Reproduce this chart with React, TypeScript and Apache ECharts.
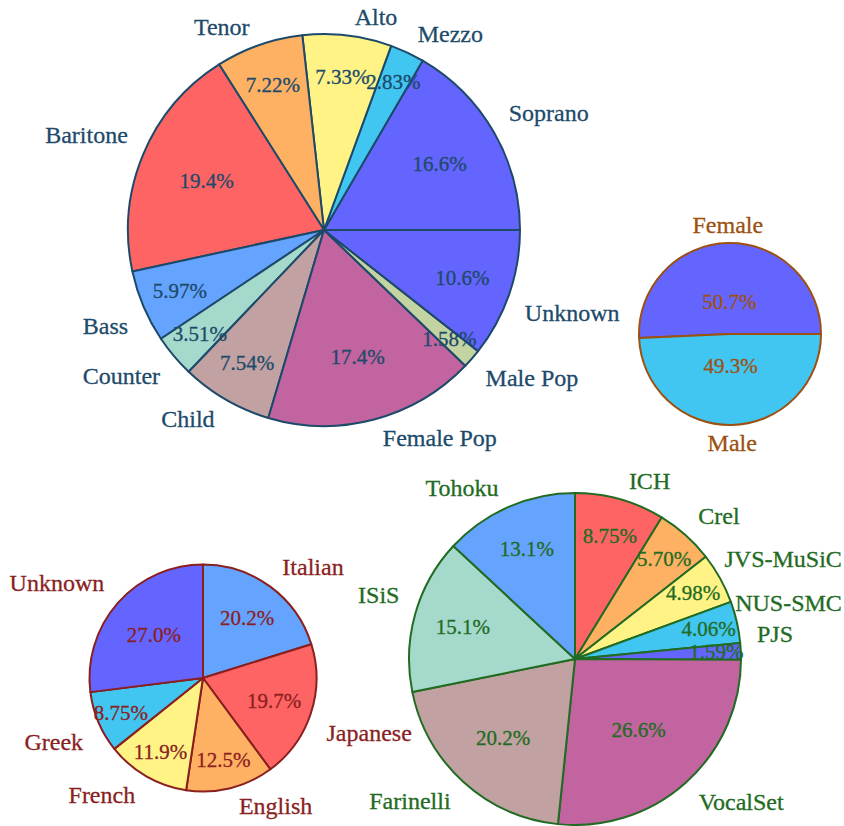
import React, { useEffect, useRef } from "react";
import * as echarts from "echarts";

// ---- data (percentages) ----
const voiceNames = ["Soprano", "Mezzo", "Alto", "Tenor", "Baritone", "Bass", "Counter", "Child", "Female Pop", "Male Pop", "Unknown"];
const voiceValues = [16.6, 2.83, 7.33, 7.22, 19.4, 5.97, 3.51, 7.54, 17.4, 1.58, 10.6];
const voiceColors = ["#6464ff", "#40c6f1", "#fff386", "#ffb163", "#ff6464", "#64a4ff", "#a4d9cb", "#c1a1a1", "#c1649f", "#c3d3a1", "#6464ff"];

const genderNames = ["Female", "Male"];
const genderValues = [50.7, 49.3];
const genderColors = ["#6464ff", "#40c6f1"];

const languageNames = ["Italian", "Japanese", "English", "French", "Greek", "Unknown"];
const languageValues = [20.2, 19.7, 12.5, 11.9, 8.75, 27.0];
const languageColors = ["#64a4ff", "#ff6464", "#ffb163", "#fff386", "#40c6f1", "#6464ff"];

const datasetNames = ["ICH", "Crel", "JVS-MuSiC", "NUS-SMC", "PJS", "VocalSet", "Farinelli", "ISiS", "Tohoku"];
const datasetValues = [8.75, 5.70, 4.98, 4.06, 1.59, 26.6, 20.2, 15.1, 13.1];
const datasetColors = ["#ff6464", "#ffb163", "#fff386", "#40c6f1", "#6464ff", "#c1649f", "#c1a1a1", "#a4d9cb", "#64a4ff"];

const WIDTH = 844;
const HEIGHT = 826;
const FONT = "Liberation Serif";
const NAME_SIZE = 24;
const PCT_SIZE = 21;

type PieDef = {
  names: string[];
  values: number[];
  colors: string[];
  ink: string;
  center: [number, number];
  radius: number;
  startAngle: number;
  clockwise: boolean;
};

const pies: PieDef[] = [
  { names: voiceNames, values: voiceValues, colors: voiceColors, ink: "#1d4a6a", center: [324, 230], radius: 196, startAngle: 0, clockwise: false },
  { names: genderNames, values: genderValues, colors: genderColors, ink: "#9c5112", center: [730, 334], radius: 91, startAngle: 0, clockwise: false },
  { names: languageNames, values: languageValues, colors: languageColors, ink: "#8a1f1f", center: [203, 678], radius: 113.5, startAngle: 90, clockwise: true },
  { names: datasetNames, values: datasetValues, colors: datasetColors, ink: "#226b22", center: [575, 659], radius: 166, startAngle: 90, clockwise: true },
];

function buildSeries(pie: PieDef) {
  const total = pie.values.reduce((a, b) => a + b, 0);
  const data = pie.names.map((n, i) => ({ name: n, value: pie.values[i], itemStyle: { color: pie.colors[i] } }));
  const common = {
    type: "pie",
    center: pie.center,
    radius: pie.radius,
    startAngle: pie.startAngle,
    clockwise: pie.clockwise,
    avoidLabelOverlap: false,
    silent: true,
    animation: false,
  };
  const textCommon = {
    color: pie.ink,
    fontFamily: FONT,
    textBorderColor: pie.ink,
    textBorderWidth: 0.3,
  };
  const main = {
    ...common,
    data,
    itemStyle: { borderColor: pie.ink, borderWidth: 2 },
    label: {
      show: true,
      position: "inside",
      ...textCommon,
      fontSize: PCT_SIZE,
      formatter: (p: any) => `${Number(p.value).toPrecision(3)}%`,
    },
    labelLine: { show: false },
    labelLayout: (p: any) => {
      const r = p.labelRect;
      if (!r) return {};
      const lx = r.x + r.width / 2;
      const ly = r.y + r.height / 2;
      const ang = (pie.values[p.dataIndex] / total) * 360;
      const ratio = Math.min(0.86, Math.max(0.33, 0.84 - 0.003 * ang));
      return {
        x: pie.center[0] + 2 * ratio * (lx - pie.center[0]),
        y: pie.center[1] + 2 * ratio * (ly - pie.center[1]),
        align: "center",
        verticalAlign: "middle",
      };
    },
  };
  const names = {
    ...common,
    data: pie.names.map((n, i) => ({ name: n, value: pie.values[i] })),
    itemStyle: { color: "rgba(0,0,0,0)", borderWidth: 0 },
    label: {
      show: true,
      position: "outside",
      formatter: "{b}",
      ...textCommon,
      fontSize: NAME_SIZE,
      overflow: "none",
    },
    labelLine: { show: true, length: 10, length2: 2, lineStyle: { opacity: 0, width: 0 } },
    labelLayout: (p: any) => {
      const pts = p.labelLinePoints;
      const r = p.labelRect;
      if (!pts || pts.length < 2 || !r) return {};
      let ux = pts[1][0] - pts[0][0];
      let uy = pts[1][1] - pts[0][1];
      const len = Math.hypot(ux, uy) || 1;
      ux /= len;
      uy /= len;
      const sx = Math.abs(ux) < 0.1 ? 0 : Math.sign(ux);
      const b = 8 + 9 * ux * ux;
      let x = pts[1][0] + sx * (r.width / 2 + 6);
      x = Math.min(x, WIDTH - 2 - r.width / 2);
      x = Math.max(x, 2 + r.width / 2);
      return {
        x,
        y: pts[1][1] + (uy < 0 ? -b : b),
        align: "center",
        verticalAlign: "middle",
      };
    },
  };
  return [main, names];
}

export default function App() {
  const ref = useRef<HTMLDivElement>(null);
  useEffect(() => {
    if (!ref.current) return;
    const chart = echarts.init(ref.current, undefined, { renderer: "svg" });
    chart.setOption({
      animation: false,
      backgroundColor: "#ffffff",
      series: pies.flatMap(buildSeries),
    });
    return () => chart.dispose();
  }, []);
  return (
    <div
      ref={ref}
      style={{ position: "fixed", left: 0, top: 0, width: WIDTH, height: HEIGHT, background: "#fff" }}
    />
  );
}
